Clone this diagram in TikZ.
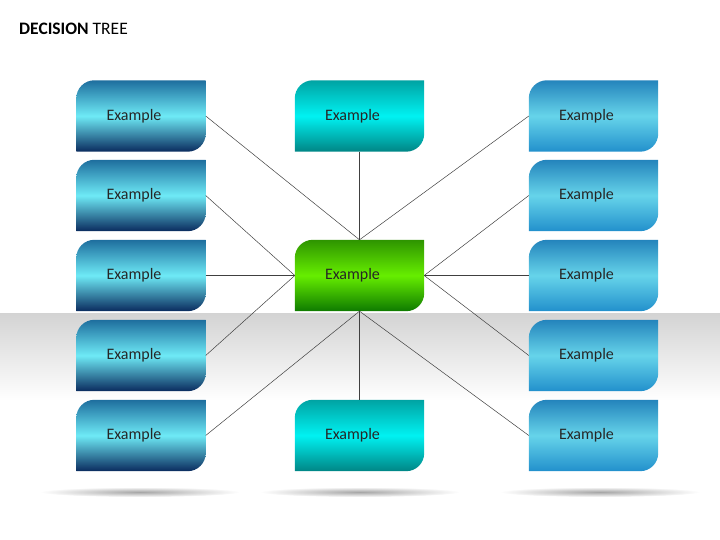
\documentclass[tikz,border=0pt]{standalone}
\usepackage{xcolor}
\usepackage{fontspec}
\setmainfont{Carlito}
\usepackage{tikz}
\usetikzlibrary{shapes,positioning,calc}

\definecolor{leftTop}{HTML}{1E6E9E}
\definecolor{leftMid}{HTML}{6EEAF6}
\definecolor{leftBot}{HTML}{0A2B5E}
\definecolor{rightTop}{HTML}{2484BC}
\definecolor{rightMid}{HTML}{66D4EA}
\definecolor{rightBot}{HTML}{2290CC}
\definecolor{tealTop}{HTML}{00A3A3}
\definecolor{tealMid}{HTML}{00F2F2}
\definecolor{tealBot}{HTML}{008585}
\definecolor{greenTop}{HTML}{2E9400}
\definecolor{greenMid}{HTML}{66EE00}
\definecolor{greenBot}{HTML}{0E7A00}

\tikzset{
  tile/.style={minimum width=129pt, minimum height=71pt, inner sep=0pt},
  lbl/.style={anchor=west, inner sep=0pt, text=black!85, font=\fontsize{16}{19}\selectfont},
  link/.style={draw=black!75, line width=0.5pt},
  leftblue/.style={top color=leftTop, bottom color=leftBot, middle color=leftMid},
  rightblue/.style={top color=rightTop, bottom color=rightBot, middle color=rightMid},
  tealfill/.style={top color=tealTop, bottom color=tealBot, middle color=tealMid},
  greenfill/.style={top color=greenTop, bottom color=greenBot, middle color=greenMid},
}

% tile with rounded top-left and bottom-right corners
\newcommand{\tileshape}[2]{%
  \shade[#2] (#1.south west) -- ([yshift=-18pt]#1.north west) arc (180:90:18pt)
    -- (#1.north east) -- ([yshift=18pt]#1.south east) arc (0:-90:18pt) -- cycle;
}

\begin{document}
\begin{tikzpicture}[x=1pt,y=1pt]
\useasboundingbox (0,0) rectangle (720,540);

% Gray band behind the lower rows
\shade[top color=black!17, bottom color=white] (0,226) rectangle (720,140);

% Floor shadows
\shade[inner color=black!35, outer color=white] (140,48) ellipse (100 and 5);
\shade[inner color=black!35, outer color=white] (360,48) ellipse (100 and 5);
\shade[inner color=black!35, outer color=white] (600,48) ellipse (100 and 5);

% Title
\node[anchor=west, inner sep=0pt, font=\fontsize{17.5}{21}\selectfont] (title) at (19,511)
  {\textbf{DECISION} TREE};

% Tiles
\node[tile] (l1) at (141,424) {};
\node[tile] (l2) at (141,344.5) {};
\node[tile] (l3) at (141,264.5) {};
\node[tile] (l4) at (141,184.5) {};
\node[tile] (l5) at (141,104.5) {};
\node[tile] (m1) at (359.5,424) {};
\node[tile] (ctr) at (359.5,264.5) {};
\node[tile] (m5) at (359.5,104.5) {};
\node[tile] (r1) at (593.5,424) {};
\node[tile] (r2) at (593.5,344.5) {};
\node[tile] (r3) at (593.5,264.5) {};
\node[tile] (r4) at (593.5,184.5) {};
\node[tile] (r5) at (593.5,104.5) {};

\foreach \n in {l1,l2,l3,l4,l5} {\tileshape{\n}{leftblue}}
\foreach \n in {r1,r2,r3,r4,r5} {\tileshape{\n}{rightblue}}
\tileshape{m1}{tealfill}
\tileshape{m5}{tealfill}
\tileshape{ctr}{greenfill}

% Labels
\foreach \n in {l1,l2,l3,l4,l5,m1,ctr,m5,r1,r2,r3,r4,r5}
  \node[lbl] (\n-txt) at ([xshift=30pt]\n.west) {Example};

% Connectors to the centre tile
\draw[link] (l1.east) -- (ctr.north);
\draw[link] (m1.south) -- (ctr.north);
\draw[link] (r1.west) -- (ctr.north);
\draw[link] (l2.east) -- (ctr.west);
\draw[link] (l3.east) -- (ctr.west);
\draw[link] (l4.east) -- (ctr.west);
\draw[link] (r2.west) -- (ctr.east);
\draw[link] (r3.west) -- (ctr.east);
\draw[link] (r4.west) -- (ctr.east);
\draw[link] (l5.east) -- (ctr.south);
\draw[link] (m5.north) -- (ctr.south);
\draw[link] (r5.west) -- (ctr.south);

\end{tikzpicture}
\end{document}
